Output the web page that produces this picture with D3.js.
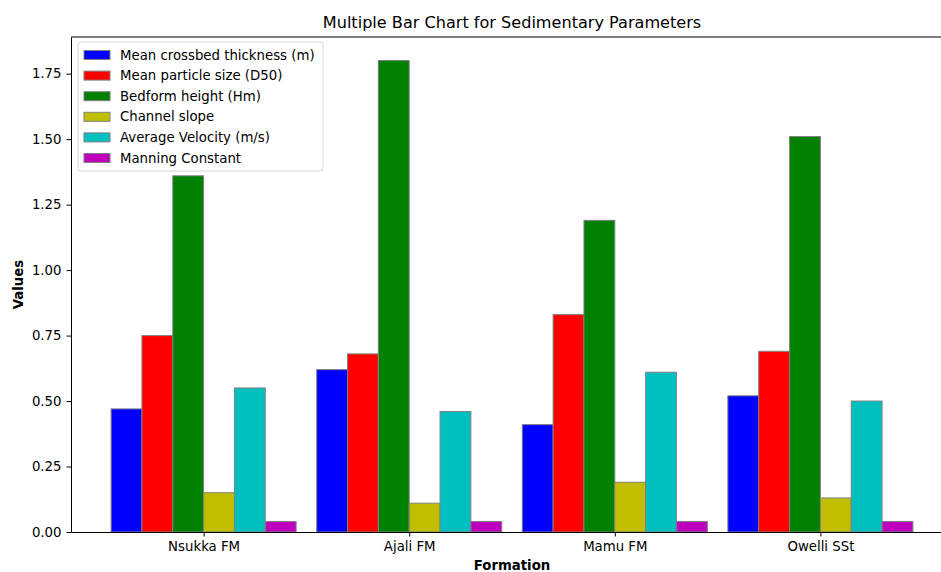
<!DOCTYPE html>
<html>
<head>
<meta charset="utf-8">
<script src="https://cdn.jsdelivr.net/npm/d3@7"></script>
<style>
  body { margin: 0; background: #fff; }
  svg { display: block; font-family: "DejaVu Sans", sans-serif; }
</style>
</head>
<body>
<div id="viz"></div>
<script>
const formations = ['Nsukka FM', 'Ajali FM', 'Mamu FM', 'Owelli SSt'];
const seriesNames = [
  'Mean crossbed thickness (m)',
  'Mean particle size (D50)',
  'Bedform height (Hm)',
  'Channel slope',
  'Average Velocity (m/s)',
  'Manning Constant'
];
const seriesColors = ['#0000ff', '#ff0000', '#008000', '#bfbf00', '#00bfbf', '#bf00bf'];
const crossbed = [0.47, 0.62, 0.41, 0.52];
const particle = [0.75, 0.68, 0.83, 0.69];
const bedform = [1.36, 1.80, 1.19, 1.51];
const slope = [0.15, 0.11, 0.19, 0.13];
const velocity = [0.55, 0.46, 0.61, 0.50];
const manning = [0.04, 0.04, 0.04, 0.04];
const yTicks = [0, 0.25, 0.5, 0.75, 1.0, 1.25, 1.5, 1.75];

const series = [crossbed, particle, bedform, slope, velocity, manning];
const barW = 0.15;

const W = 941, H = 572;
const margin = { top: 37, left: 71, bottom: 40 };
const plotRight = 953;

const svg = d3.select('#viz').append('svg')
  .attr('width', W)
  .attr('height', H);

// matplotlib-style autoscale: bars span [-0.45, 3.45] plus 5% margins
const lo = -3 * barW, hi = formations.length - 1 + 3 * barW;
const pad = (hi - lo) * 0.05;
const x = d3.scaleLinear()
  .domain([lo - pad, hi + pad])
  .range([margin.left, plotRight]);
const yMax = d3.max(series, s => d3.max(s)) * 1.05;
const y = d3.scaleLinear()
  .domain([0, yMax])
  .range([H - margin.bottom, margin.top]);

// bars
series.forEach((vals, si) => {
  svg.append('g')
    .selectAll('rect')
    .data(vals)
    .join('rect')
    .attr('x', (d, i) => x(i + (si - 3) * barW))
    .attr('width', x(barW) - x(0))
    .attr('y', d => y(d))
    .attr('height', d => y(0) - y(d))
    .attr('fill', seriesColors[si])
    .attr('stroke', '#808080')
    .attr('stroke-width', 1);
});

// axes
const xAxis = svg.append('g')
  .attr('transform', `translate(0,${y(0)})`)
  .call(d3.axisBottom(x)
    .tickValues(d3.range(formations.length))
    .tickFormat(i => formations[i])
    .tickSizeInner(4.5)
    .tickSizeOuter(0)
    .tickPadding(5));
const yAxis = svg.append('g')
  .attr('transform', `translate(${margin.left},0)`)
  .call(d3.axisLeft(y)
    .tickValues(yTicks)
    .tickFormat(d3.format('.2f'))
    .tickSizeInner(4.5)
    .tickSizeOuter(0)
    .tickPadding(5));
[xAxis, yAxis].forEach(a => {
  a.selectAll('text').attr('font-size', 13.3).attr('fill', '#000')
    .attr('font-family', '"DejaVu Sans", sans-serif');
  a.selectAll('.tick line').attr('stroke', '#000').attr('stroke-width', 1);
  a.select('.domain').attr('stroke', '#000').attr('stroke-width', 1);
});

// top spine
svg.append('line')
  .attr('x1', margin.left).attr('x2', plotRight)
  .attr('y1', margin.top).attr('y2', margin.top)
  .attr('stroke', '#000');

// title and labels
const cx = (margin.left + plotRight) / 2;
svg.append('text')
  .attr('x', cx).attr('y', 28)
  .attr('text-anchor', 'middle')
  .attr('font-size', 16.1)
  .text('Multiple Bar Chart for Sedimentary Parameters');
svg.append('text')
  .attr('x', cx).attr('y', 570)
  .attr('text-anchor', 'middle')
  .attr('font-size', 13.3)
  .attr('font-weight', 'bold')
  .text('Formation');
svg.append('text')
  .attr('transform', `translate(23,${(margin.top + H - margin.bottom) / 2}) rotate(-90)`)
  .attr('text-anchor', 'middle')
  .attr('font-size', 13.3)
  .attr('font-weight', 'bold')
  .text('Values');

// legend
const leg = svg.append('g').attr('transform', 'translate(78,42)');
leg.append('rect')
  .attr('width', 245).attr('height', 129)
  .attr('rx', 3)
  .attr('fill', '#fff').attr('fill-opacity', 0.8)
  .attr('stroke', '#d6d6d6');
const items = leg.selectAll('g.item')
  .data(seriesNames)
  .join('g')
  .attr('class', 'item')
  .attr('transform', (d, i) => `translate(6,${13 + i * 20.6})`);
items.append('rect')
  .attr('x', 0).attr('y', -4.5)
  .attr('width', 26).attr('height', 9)
  .attr('fill', (d, i) => seriesColors[i])
  .attr('stroke', '#808080');
items.append('text')
  .attr('x', 36).attr('y', 4.5)
  .attr('font-size', 13.3)
  .text(d => d);
</script>
</body>
</html>
